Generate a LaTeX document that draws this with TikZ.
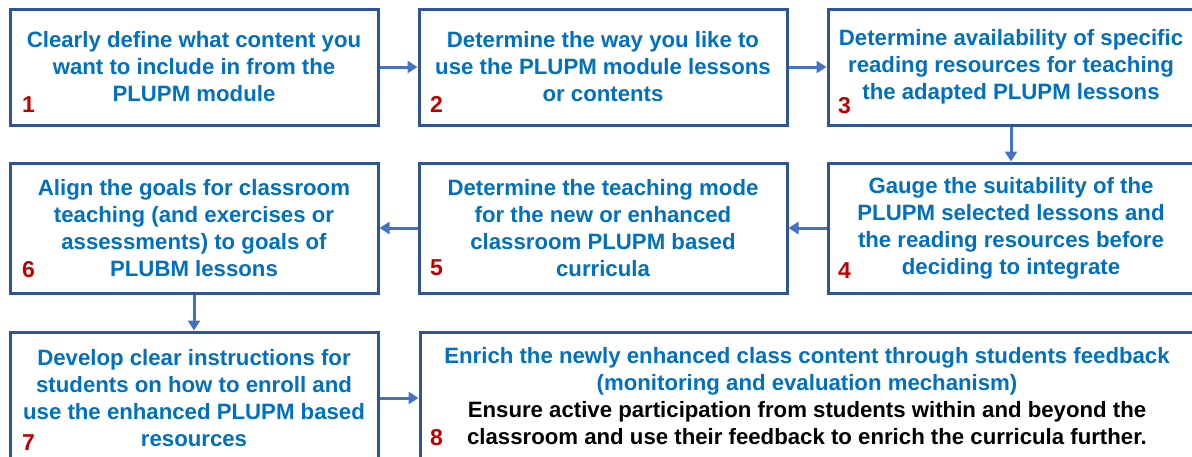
\documentclass[tikz,border=0pt]{standalone}
\usepackage{fontspec}
\setmainfont{Liberation Sans}
\usetikzlibrary{arrows.meta}
\definecolor{boxborder}{HTML}{2F5597}
\definecolor{arrowblue}{HTML}{4472C4}
\definecolor{textblue}{HTML}{0070C0}
\definecolor{numred}{HTML}{C00000}
\tikzset{
  stepbox/.style={draw=boxborder, line width=3pt, fill=white, minimum width=368pt,
    minimum height=116pt, align=center, inner sep=0pt, text=textblue,
    font=\fontsize{22.2}{27}\selectfont\bfseries},
  numlabel/.style={anchor=base west, inner sep=0pt, text=numred,
    font=\fontsize{23}{23}\selectfont\bfseries},
  boxeighttext/.style={align=center, inner sep=0pt, anchor=base,
    font=\fontsize{22.2}{27}\selectfont\bfseries},
  arr/.style={draw=arrowblue, line width=3pt, -{Triangle[length=10pt,width=12pt]}},
}
\begin{document}
\begin{tikzpicture}[x=1pt,y=-1pt]
\useasboundingbox (0,0) rectangle (1192,456);
\clip (0,0) rectangle (1192,456);
\node[stepbox] (b1) at (194,67) {Clearly define what content you\\want to include in from the\\PLUPM module};
\node[stepbox] (b2) at (603,67) {Determine the way you like to\\use the PLUPM module lessons\\or contents};
\node[stepbox, minimum width=366pt] (b3) at (1011,67) {Determine availability of specific\\reading resources for teaching\\the adapted PLUPM lessons};
\node[stepbox, minimum height=130pt, minimum width=366pt] (b4) at (1011,228) {Gauge the suitability of the\\PLUPM selected lessons and\\the reading resources before\\deciding to integrate};
\node[stepbox, minimum height=130pt] (b5) at (603,228) {Determine the teaching mode\\for the new or enhanced\\classroom PLUPM based\\curricula};
\node[stepbox, minimum height=130pt] (b6) at (194,228) {Align the goals for classroom\\teaching (and exercises or\\assessments) to goals of\\PLUBM lessons};
\node[stepbox, minimum height=132pt] (b7) at (194,398) {Develop clear instructions for\\students on how to enroll and\\use the enhanced PLUPM based\\resources};
\node[stepbox, minimum height=140pt, minimum width=800pt] (b8) at (820,402) {};
\node[boxeighttext, text=textblue] (t8a) at (807,390)
  {Enrich the newly enhanced class content through students feedback\\(monitoring and evaluation mechanism)};
\node[boxeighttext, text=black] (t8b) at (807,444)
  {Ensure active participation from students within and beyond the\\classroom and use their feedback to enrich the curricula further.};
\node[numlabel] (n1) at (22,112) {1};
\node[numlabel] (n2) at (430,112) {2};
\node[numlabel] (n3) at (838,113) {3};
\node[numlabel] (n4) at (838,278) {4};
\node[numlabel] (n5) at (430,275) {5};
\node[numlabel] (n6) at (22,277) {6};
\node[numlabel] (n7) at (22,450) {7};
\node[numlabel] (n8) at (430,445) {8};
\draw[arr] (b1) -- (b2);
\draw[arr] (b2) -- (b3);
\draw[arr] (b3) -- (b4);
\draw[arr] (b4) -- (b5);
\draw[arr] (b5) -- (b6);
\draw[arr] (b6) -- (b7);
\draw[arr] (b7.east) -- (b7.east -| b8.west);
\end{tikzpicture}
\end{document}
